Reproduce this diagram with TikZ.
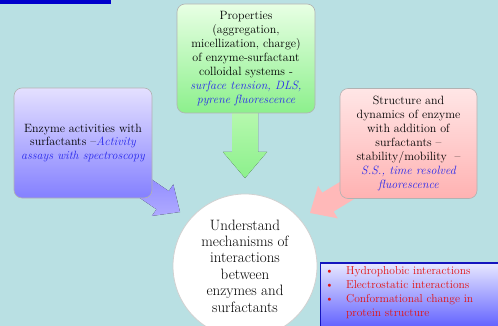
\documentclass[tikz,border=0pt]{standalone}
\usetikzlibrary{calc}
\definecolor{bgc}{RGB}{185,224,227}
\definecolor{itblue}{RGB}{40,40,235}
\definecolor{redtxt}{RGB}{225,20,20}
\definecolor{barblue}{RGB}{0,0,204}
\newcommand\blockarrow[6]{%
  \coordinate (ba-h) at ($(#2)!#5!(#1)$);
  \fill[#6] ($(#1)!#3!90:(#2)$) -- ($(ba-h)!#3!-90:(#1)$) -- ($(ba-h)!#4!-90:(#1)$) -- (#2)
     -- ($(ba-h)!#4!90:(#1)$) -- ($(ba-h)!#3!90:(#1)$) -- ($(#1)!#3!-90:(#2)$) -- cycle;
}
\tikzset{
  infobox/.style={draw=black!30, line width=0.6pt, rounded corners=8pt, align=center,
    inner sep=0pt, font=\fontsize{12}{13.9}\selectfont},
  itb/.style={},
}
\newcommand\bi[1]{{\itshape\color{itblue}#1}}
\begin{document}
\begin{tikzpicture}[x=1pt,y=-1pt]
\fill[bgc] (0,0) rectangle (498,326);
\useasboundingbox (0,0) rectangle (498,326);
\fill[barblue] (0,0) rectangle (111,4);

% arrow anchors
\coordinate (gs) at (245,100);
\coordinate (gt) at (245,178);
\coordinate (bs) at (130,178);
\coordinate (bt) at (180,212);
\coordinate (ps) at (361,182);
\coordinate (pt) at (310,213);
\blockarrow{gs}{gt}{13pt}{22pt}{26pt}{top color={rgb,255:red,190;green,250;blue,180}, bottom color={rgb,255:red,140;green,240;blue,140}}
\blockarrow{bs}{bt}{11pt}{19pt}{21pt}{top color={rgb,255:red,140;green,135;blue,255}, bottom color={rgb,255:red,175;green,170;blue,255}}
\blockarrow{ps}{pt}{11pt}{19pt}{21pt}{fill={rgb,255:red,255;green,185;blue,185}}

% boxes
\node[infobox, minimum width=138pt, minimum height=109pt,
  top color={rgb,255:red,232;green,255;blue,228}, bottom color={rgb,255:red,140;green,240;blue,140}]
  (green) at (246,58.5) {Properties\\(aggregation,\\micellization, charge)\\of enzyme-surfactant\\colloidal systems -\\\bi{surface tension, DLS,}\\\bi{pyrene fluorescence}};
\node[infobox, minimum width=138pt, minimum height=110pt,
  top color={rgb,255:red,228;green,224;blue,255}, bottom color={rgb,255:red,132;green,128;blue,255}]
  (blue) at (83,143) {Enzyme activities with\\surfactants --\bi{Activity}\\\bi{assays with spectroscopy}};
\node[infobox, minimum width=137pt, minimum height=110pt,
  top color={rgb,255:red,255;green,230;blue,230}, bottom color={rgb,255:red,255;green,178;blue,178}]
  (pink) at (408.5,143.5) {Structure and\\dynamics of enzyme\\with addition of\\surfactants --\\stability/mobility\ \ --\\\bi{S.S., time resolved}\\\bi{fluorescence}};

% circle
\node[circle, fill=white, draw=black!18, line width=0.8pt, minimum size=144pt, inner sep=0pt,
  align=center, font=\fontsize{15}{16.4}\selectfont] (goal) at (245,266)
  {Understand\\mechanisms of\\interactions\\between\\enzymes and\\surfactants};

% bullet box
\shade[top color={rgb,255:red,232;green,232;blue,255}, bottom color={rgb,255:red,100;green,100;blue,255}]
  (320,263) rectangle (498,326);
\draw[draw={rgb,255:red,20;green,20;blue,190}, line width=1.2pt] (498,263) -- (320.6,263) -- (320.6,326);
\node[anchor=north west, align=left, inner sep=0pt, text=redtxt,
  font=\fontsize{11.5}{14}\selectfont] (list) at (325,266.5)
  {\makebox[21pt][l]{\textbullet}Hydrophobic interactions\\
   \makebox[21pt][l]{\textbullet}Electrostatic interactions\\
   \makebox[21pt][l]{\textbullet}Conformational change in\\
   \hspace*{21pt}protein structure};
\end{tikzpicture}
\end{document}
